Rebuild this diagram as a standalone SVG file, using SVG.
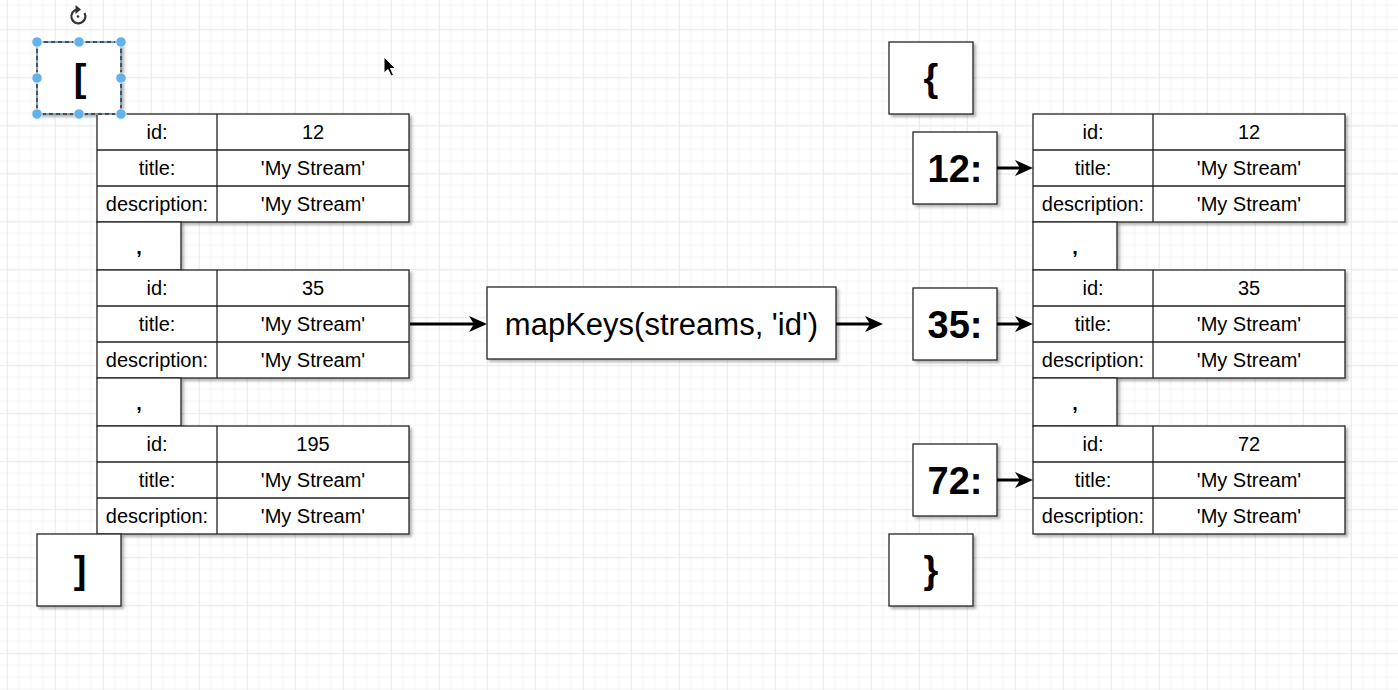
<svg xmlns="http://www.w3.org/2000/svg" width="1398" height="690" viewBox="0 0 1398 690">
<defs>
<pattern id="grid" patternUnits="userSpaceOnUse" x="6.7" y="29.3" width="48" height="48">
<path d="M12 0V48M24 0V48M36 0V48M0 12H48M0 24H48M0 36H48" stroke="#f3f3f3" stroke-width="1" fill="none"/>
<path d="M0.5 0V48M0 0.5H48" stroke="#e6e6e6" stroke-width="1" fill="none"/>
</pattern>
<filter id="sh" x="-10%" y="-10%" width="130%" height="130%">
<feDropShadow dx="2.5" dy="2.5" stdDeviation="0.8" flood-color="#000" flood-opacity="0.28"/>
</filter>
<marker id="ah" viewBox="0 0 18 16" refX="13" refY="8" markerWidth="18" markerHeight="16" markerUnits="userSpaceOnUse" orient="auto">
<path d="M0,0 L18,8 L0,16 L5,8 Z" fill="#000"/>
</marker>
<style>
.box{fill:#fff;stroke:#222;stroke-width:1.3;filter:url(#sh)}
.ln{fill:none;stroke:#222;stroke-width:1.3}
text{font-family:"Liberation Sans",Arial,Helvetica,sans-serif;fill:#000;text-anchor:middle}
.f{font-size:20px}
.key{font-size:38px;font-weight:bold}
.br{font-size:38px;font-weight:bold}
.fn{font-size:31px}
.conn{stroke:#000;stroke-width:3;fill:none;marker-end:url(#ah)}
.hd{fill:#64b2ea;stroke:#fff;stroke-width:0.8}
</style>
</defs>
<rect width="1398" height="690" fill="#fff"/>
<rect width="1398" height="690" fill="url(#grid)"/>

<g id="open-bracket">
<rect class="box" x="37" y="42" width="84" height="72"/>
<text class="br" x="80" y="91">[</text>
</g>

<g id="stream-12">
<rect class="box" x="97" y="114" width="312" height="108"/>
<path class="ln" d="M97 150H409M97 186H409M217 114V222"/>
<text class="f" x="157" y="139">id:</text>
<text class="f" x="313" y="139">12</text>
<text class="f" x="157" y="175">title:</text>
<text class="f" x="313" y="175">'My Stream'</text>
<text class="f" x="157" y="211">description:</text>
<text class="f" x="313" y="211">'My Stream'</text>
</g>
<g id="comma-1">
<rect class="box" x="97" y="222" width="84" height="48"/>
<text class="f" x="139" y="254" font-weight="bold">,</text>
</g>
<g id="stream-35">
<rect class="box" x="97" y="270" width="312" height="108"/>
<path class="ln" d="M97 306H409M97 342H409M217 270V378"/>
<text class="f" x="157" y="295">id:</text>
<text class="f" x="313" y="295">35</text>
<text class="f" x="157" y="331">title:</text>
<text class="f" x="313" y="331">'My Stream'</text>
<text class="f" x="157" y="367">description:</text>
<text class="f" x="313" y="367">'My Stream'</text>
</g>
<g id="comma-2">
<rect class="box" x="97" y="378" width="84" height="48"/>
<text class="f" x="139" y="410" font-weight="bold">,</text>
</g>
<g id="stream-195">
<rect class="box" x="97" y="426" width="312" height="108"/>
<path class="ln" d="M97 462H409M97 498H409M217 426V534"/>
<text class="f" x="157" y="451">id:</text>
<text class="f" x="313" y="451">195</text>
<text class="f" x="157" y="487">title:</text>
<text class="f" x="313" y="487">'My Stream'</text>
<text class="f" x="157" y="523">description:</text>
<text class="f" x="313" y="523">'My Stream'</text>
</g>
<g id="close-bracket">
<rect class="box" x="37" y="534" width="84" height="72"/>
<text class="br" x="80" y="583">]</text>
</g>

<g id="mapkeys">
<rect class="box" x="487" y="287" width="349" height="72"/>
<text class="fn" x="661.5" y="334.5">mapKeys(streams, 'id')</text>
</g>

<g id="open-brace">
<rect class="box" x="889" y="42" width="84" height="72"/>
<text class="br" x="931" y="91">{</text>
</g>
<g id="key-12">
<rect class="box" x="913" y="132" width="84" height="72"/>
<text class="key" x="955" y="182">12:</text>
</g>
<g id="key-35">
<rect class="box" x="913" y="288" width="84" height="72"/>
<text class="key" x="955" y="338">35:</text>
</g>
<g id="key-72">
<rect class="box" x="913" y="444" width="84" height="72"/>
<text class="key" x="955" y="494">72:</text>
</g>
<g id="close-brace">
<rect class="box" x="889" y="534" width="84" height="72"/>
<text class="br" x="931" y="583">}</text>
</g>

<g id="obj-12">
<rect class="box" x="1033" y="114" width="312" height="108"/>
<path class="ln" d="M1033 150H1345M1033 186H1345M1153 114V222"/>
<text class="f" x="1093" y="139">id:</text>
<text class="f" x="1249" y="139">12</text>
<text class="f" x="1093" y="175">title:</text>
<text class="f" x="1249" y="175">'My Stream'</text>
<text class="f" x="1093" y="211">description:</text>
<text class="f" x="1249" y="211">'My Stream'</text>
</g>
<g id="comma-3">
<rect class="box" x="1033" y="222" width="84" height="48"/>
<text class="f" x="1075" y="254" font-weight="bold">,</text>
</g>
<g id="obj-35">
<rect class="box" x="1033" y="270" width="312" height="108"/>
<path class="ln" d="M1033 306H1345M1033 342H1345M1153 270V378"/>
<text class="f" x="1093" y="295">id:</text>
<text class="f" x="1249" y="295">35</text>
<text class="f" x="1093" y="331">title:</text>
<text class="f" x="1249" y="331">'My Stream'</text>
<text class="f" x="1093" y="367">description:</text>
<text class="f" x="1249" y="367">'My Stream'</text>
</g>
<g id="comma-4">
<rect class="box" x="1033" y="378" width="84" height="48"/>
<text class="f" x="1075" y="410" font-weight="bold">,</text>
</g>
<g id="obj-72">
<rect class="box" x="1033" y="426" width="312" height="108"/>
<path class="ln" d="M1033 462H1345M1033 498H1345M1153 426V534"/>
<text class="f" x="1093" y="451">id:</text>
<text class="f" x="1249" y="451">72</text>
<text class="f" x="1093" y="487">title:</text>
<text class="f" x="1249" y="487">'My Stream'</text>
<text class="f" x="1093" y="523">description:</text>
<text class="f" x="1249" y="523">'My Stream'</text>
</g>

<g id="connectors">
<line class="conn" x1="410" y1="324" x2="482" y2="324"/>
<line class="conn" x1="836" y1="324" x2="878" y2="324"/>
<line class="conn" x1="997" y1="168" x2="1028" y2="168"/>
<line class="conn" x1="997" y1="324" x2="1028" y2="324"/>
<line class="conn" x1="997" y1="480" x2="1028" y2="480"/>
</g>

<g id="selection">
<rect x="37" y="42" width="84" height="72" fill="none" stroke="#7dbbe8" stroke-width="1.4"/>
<rect x="37" y="42" width="84" height="72" fill="none" stroke="#333" stroke-width="1.4" stroke-dasharray="4 3"/>
<circle class="hd" cx="37" cy="42" r="5.2"/>
<circle class="hd" cx="79" cy="42" r="5.2"/>
<circle class="hd" cx="121" cy="42" r="5.2"/>
<circle class="hd" cx="37" cy="78" r="5.2"/>
<circle class="hd" cx="121" cy="78" r="5.2"/>
<circle class="hd" cx="37" cy="114" r="5.2"/>
<circle class="hd" cx="79" cy="114" r="5.2"/>
<circle class="hd" cx="121" cy="114" r="5.2"/>
<path d="M84.5 13 A7 7 0 1 1 77 9.5" fill="none" stroke="#333" stroke-width="2.2"/>
<path d="M75.5 5 L81 9.5 L75.5 14 Z" fill="#333"/>
<circle cx="78" cy="16.5" r="1.3" fill="#333"/>
</g>
<path d="M384 57 L384 73 L388 69.5 L391 76 L393.5 75 L390.5 68.5 L395.5 68.5 Z" fill="#000" stroke="#fff" stroke-width="1"/>
</svg>
